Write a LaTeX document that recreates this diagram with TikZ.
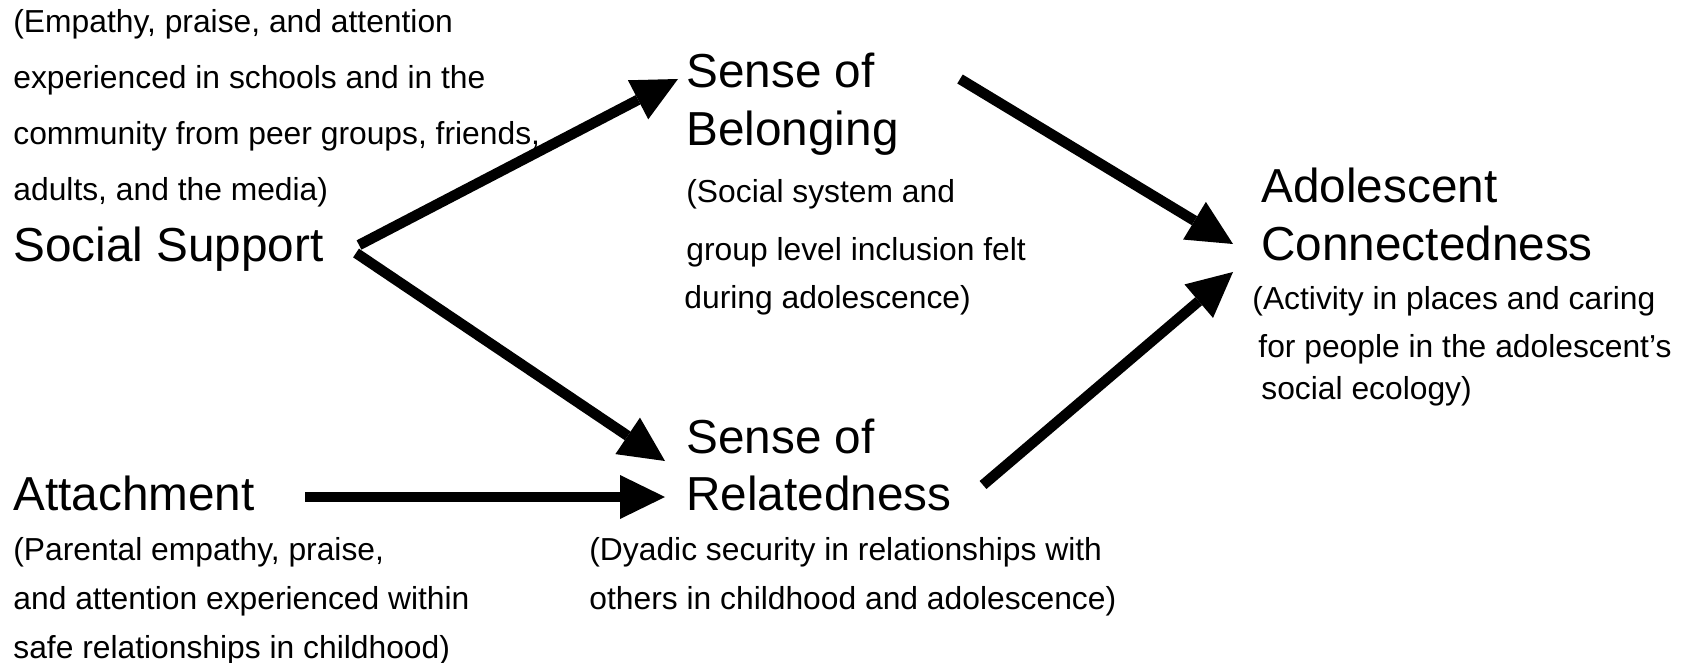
\documentclass[tikz,border=0pt]{standalone}
\usepackage{fontspec}
\setmainfont{Liberation Sans}
\usetikzlibrary{arrows.meta,calc}
\newcommand{\lns}[1]{\begin{tabular}[t]{@{}l@{}}#1\end{tabular}}
\begin{document}
\begin{tikzpicture}[x=0.5pt,y=-0.5pt,
  big/.style={font=\fontsize{23.85}{28.75}\selectfont, inner sep=0pt, anchor=base west},
  small/.style={font=\fontsize{15.9}{24.5}\selectfont, inner sep=0pt, anchor=base west},
  arr/.style={line width=5.25pt, -{Triangle[length=22.5pt,width=22pt,line width=0pt]}}]
\fill[white] (0,0) rectangle (1686,663);
\useasboundingbox (0,0) rectangle (1686,663);
\node[small,font=\fontsize{15.9}{28}\selectfont] (ssd) at (13,33) {\lns{(Empathy, praise, and attention\\experienced in schools and in the\\community from peer groups, friends,\\adults, and the media)}};
\node[big] (ss) at (13,262) {Social Support};
\node[big] (bel) at (686,88) {\lns{Sense of\\Belonging}};
\node[small,font=\fontsize{15.9}{24}\selectfont] (beld) at (686,203) {\lns{(Social system and\\[5pt]group level inclusion felt\\\hspace{-1pt}during adolescence)}};
\node[big] (ac) at (1261,203) {\lns{Adolescent\\Connectedness}};
\node[small,font=\fontsize{15.9}{20.5}\selectfont] (acd) at (1252,309) {\lns{(Activity in places and caring\\[4pt]\hspace{3pt}for people in the adolescent’s\\\hspace{4.5pt}social ecology)}};
\node[big] (rel) at (686,453) {\lns{Sense of\\Relatedness}};
\node[small] (reld) at (589,560) {\lns{(Dyadic security in relationships with\\others in childhood and adolescence)}};
\node[big] (att) at (13,510) {Attachment};
\node[small] (attd) at (13,560) {\lns{(Parental empathy, praise,\\and attention experienced within\\safe relationships in childhood)}};
\draw[arr] ($(ss.base east)+(35,-17)$) -- ($(bel.base west)+(-8,-9)$);
\draw[arr] ($(ss.base east)+(32,-9)$) -- ($(rel.base west)+(-21,8)$);
\draw[arr] ($(att.base east)+(50,-13)$) -- ($(rel.base west)+(-21,44)$);
\draw[arr] ($(bel.base west)+(274,-9)$) -- ($(ac.base west)+(-28,41)$);
\draw[arr] ($(rel.base west)+(297,32)$) -- ($(ac.base west)+(-28,69)$);
\end{tikzpicture}
\end{document}
